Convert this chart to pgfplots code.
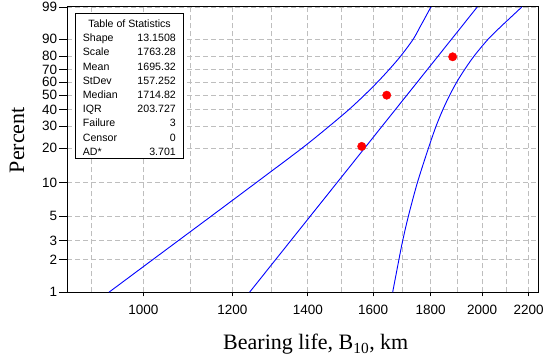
\documentclass[border=0pt]{standalone}
\usepackage{fontspec}
\setmainfont{Liberation Sans}
\newfontfamily\timesfont{Liberation Serif}
\usepackage{pgfplots}
\pgfplotsset{compat=1.18}
\definecolor{gridgray}{RGB}{190,190,190}
\definecolor{fitblue}{RGB}{0,0,255}
\definecolor{ptred}{RGB}{255,0,0}
\begin{document}
\begin{tikzpicture}
\path[use as bounding box] (0pt,0pt) rectangle (547pt,360pt);
\begin{axis}[
  at={(67pt,67.7pt)}, anchor=south west,
  scale only axis, width=471pt, height=285.3pt,
  xmode=log, xmin=855.5, xmax=2242.3,
  ymin=-4.60015, ymax=1.52718,
  y filter/.code={\pgfmathparse{ln(-ln(1-#1/100))}},
  xtick={1000,1200,1400,1600,1800,2000,2200},
  xticklabels={1000,1200,1400,1600,1800,2000,2200},
  minor xtick={900,1100,1300,1500,1700,1900,2100},
  ytick={-4.60015,-3.90194,-3.49137,-2.97020,-2.25037,-1.49994,-1.03093,-0.67173,-0.36651,-0.08742,0.18563,0.47588,0.83403,1.52718},
  yticklabels={1,2,3,5,10,20,30,40,50,60,70,80,90,99},
  xmajorgrids, xminorgrids, ymajorgrids,
  grid style={gridgray, dash pattern=on 5pt off 3pt, line width=0.8pt},
  minor grid style={gridgray, dash pattern=on 5pt off 3pt, line width=0.8pt},
  tick align=outside, tick pos=left,
  major tick length=8pt, minor tick length=0pt,
  xtick style={/pgfplots/major tick length=4pt},
  tick style={black, line width=0.8pt},
  axis line style={black, line width=1pt},
  ticklabel style={font=\fontsize{13.5}{14}\selectfont, inner sep=0pt},
  yticklabel style={anchor=east, xshift=-1.7pt},
  xticklabel style={anchor=north, yshift=-4.7pt},
  xlabel={\timesfont\fontsize{22}{24}\selectfont Bearing life, B\textsubscript{10}, km},
  ylabel={\timesfont\fontsize{22}{24}\selectfont Percent},
  xlabel style={at={(axis description cs:0.3312,-0.2022)}, anchor=base west, inner sep=0pt},
  ylabel style={at={(axis description cs:-0.0913,0.4171)}, anchor=base west, inner sep=0pt},
]
% upper confidence bound
\addplot[fitblue, line width=0.9pt, smooth, tension=0.5] coordinates {
  (932.2,1) (1019.2,2) (1074.2,3) (1148.3,5) (1258.8,10) (1384.4,20)
  (1463.1,30) (1523.5,40) (1571.9,50) (1614.3,60) (1653.7,70) (1693.4,80)
  (1736.9,90) (1761.3,95) (1775.8,97) (1801.0,99)};
% fitted Weibull line
\addplot[fitblue, line width=0.9pt] coordinates {(1242.8,1) (1980.4,99)};
% lower confidence bound
\addplot[fitblue, line width=0.9pt, smooth, tension=0.5] coordinates {
  (1665.6,1) (1686.9,2) (1700.1,3) (1719.7,5) (1751.6,10) (1792.2,20)
  (1820.4,30) (1846.2,40) (1871.7,50) (1898.7,60) (1930.0,70) (1967.8,80)
  (2024.2,90) (2076.2,95) (2109.6,97) (2169.1,99)};
% failure data (median ranks)
\addplot[only marks, mark=*, mark size=4.2pt, ptred, mark options={draw=ptred, fill=ptred}] coordinates {
  (1563.3,20.59) (1645.4,50) (1883.2,79.41)};
\end{axis}
% table of statistics
\draw[black, line width=0.8pt, fill=white] (75.7pt,201.7pt) rectangle (183.3pt,346.7pt);
\begin{scope}[every node/.style={inner sep=0pt, font=\fontsize{10.6}{12}\selectfont}]
\node[anchor=base] at (129.5pt,332.7pt) {Table of Statistics};
\node[anchor=base west] at (82.7pt,318.5pt) {Shape};   \node[anchor=base east] at (176pt,318.5pt) {13.1508};
\node[anchor=base west] at (82.7pt,304.3pt) {Scale};   \node[anchor=base east] at (176pt,304.3pt) {1763.28};
\node[anchor=base west] at (82.7pt,290.0pt) {Mean};    \node[anchor=base east] at (176pt,290.0pt) {1695.32};
\node[anchor=base west] at (82.7pt,275.8pt) {StDev};   \node[anchor=base east] at (176pt,275.8pt) {157.252};
\node[anchor=base west] at (82.7pt,261.6pt) {Median};  \node[anchor=base east] at (176pt,261.6pt) {1714.82};
\node[anchor=base west] at (82.7pt,247.4pt) {IQR};     \node[anchor=base east] at (176pt,247.4pt) {203.727};
\node[anchor=base west] at (82.7pt,233.2pt) {Failure}; \node[anchor=base east] at (176pt,233.2pt) {3};
\node[anchor=base west] at (82.7pt,218.9pt) {Censor};  \node[anchor=base east] at (176pt,218.9pt) {0};
\node[anchor=base west] at (82.7pt,204.7pt) {AD*};     \node[anchor=base east] at (176pt,204.7pt) {3.701};
\end{scope}
\end{tikzpicture}
\end{document}
